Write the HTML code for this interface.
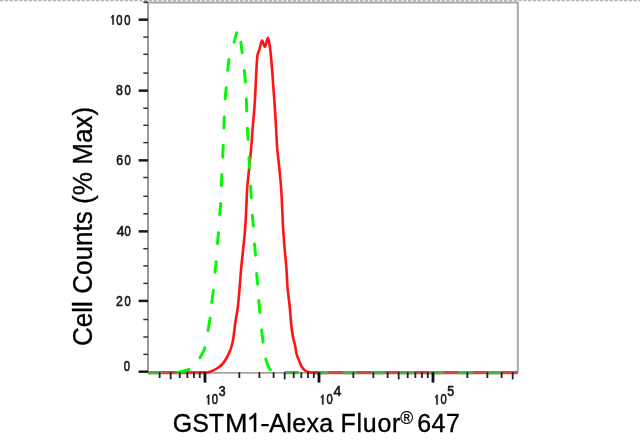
<!DOCTYPE html>
<html><head><meta charset="utf-8"><style>
html,body{margin:0;padding:0;background:#fff;width:640px;height:443px;overflow:hidden}
svg{display:block;font-family:"Liberation Sans",sans-serif;filter:blur(0.35px)}
.maj{stroke:#1a1a1a;stroke-width:2.5}
.maj0{stroke:#111;stroke-width:2.4}
.min{stroke:#333;stroke-width:1.5}
.xmaj{stroke:#111;stroke-width:2.8}
.xmin{stroke:#222;stroke-width:1.8}
.tl{font-size:14px;fill:#1a1a1a;stroke:#1a1a1a;stroke-width:0.65}
.g1{fill:#1a1a1a;stroke:#1a1a1a;stroke-width:70}
.tt{font-size:25px;fill:#000;stroke:#000;stroke-width:0.35}
</style></head><body>
<svg width="640" height="443" viewBox="0 0 640 443">
<line x1="0" y1="0.6" x2="640" y2="0.6" stroke="#b4b4b4" stroke-width="1.2" stroke-dasharray="3.3 1.5"/>
<path d="M144,2.6 H517.8 V372.5" fill="none" stroke="#a8a8a8" stroke-width="2"/>
<line x1="148" y1="2" x2="148" y2="373" stroke="#9a9a9a" stroke-width="2"/>
<line x1="148" y1="372.9" x2="518" y2="372.9" stroke="#a4a4a4" stroke-width="1.8"/>
<path d="M148,372.7 H205 M313,372.7 H517.8" stroke="#c84c4c" stroke-width="3.2" fill="none"/>
<path d="M148.30,372.70 H162.00 M284.70,372.70 H298.90 M313.60,372.70 H328.30 M342.70,372.70 H357.00 M371.00,372.70 H385.60 M400.00,372.70 H414.40 M429.50,372.70 H443.70 M458.00,372.70 H472.80 M487.40,372.70 H501.60" stroke="#48b448" stroke-width="3.2" fill="none"/>
<path d="M200.00,372.50 C200.83,372.50 203.33,372.62 205.00,372.50 C206.67,372.38 208.03,372.47 210.00,371.80 C211.97,371.13 214.88,369.63 216.80,368.50 C218.72,367.37 219.93,366.63 221.50,365.00 C223.07,363.37 224.87,360.87 226.20,358.70 C227.53,356.53 228.63,353.95 229.50,352.00 C230.37,350.05 230.75,349.33 231.40,347.00 C232.05,344.67 232.80,341.67 233.40,338.00 C234.00,334.33 234.47,328.83 235.00,325.00 C235.53,321.17 236.12,318.08 236.60,315.00 C237.08,311.92 237.40,311.00 237.90,306.50 C238.40,302.00 239.05,294.42 239.60,288.00 C240.15,281.58 240.58,274.67 241.20,268.00 C241.82,261.33 242.63,254.67 243.30,248.00 C243.97,241.33 244.70,234.67 245.20,228.00 C245.70,221.33 245.97,214.67 246.30,208.00 C246.63,201.33 246.72,194.67 247.20,188.00 C247.68,181.33 248.53,174.67 249.20,168.00 C249.87,161.33 250.62,154.67 251.20,148.00 C251.78,141.33 252.17,134.67 252.70,128.00 C253.23,121.33 253.98,113.50 254.40,108.00 C254.82,102.50 254.95,99.58 255.20,95.00 C255.45,90.42 255.68,85.00 255.90,80.50 C256.12,76.00 256.23,72.22 256.50,68.00 C256.77,63.78 257.02,58.27 257.50,55.20 C257.98,52.13 258.65,52.02 259.40,49.60 C260.15,47.18 261.07,41.18 262.00,40.70 C262.93,40.22 264.02,47.18 265.00,46.70 C265.98,46.22 267.10,37.88 267.90,37.80 C268.70,37.72 269.25,42.68 269.80,46.20 C270.35,49.72 270.77,54.38 271.20,58.90 C271.63,63.42 272.03,68.48 272.40,73.30 C272.77,78.12 273.08,83.35 273.40,87.80 C273.72,92.25 274.03,96.30 274.30,100.00 C274.57,103.70 274.75,106.23 275.00,110.00 C275.25,113.77 275.43,116.27 275.80,122.60 C276.17,128.93 276.62,140.43 277.20,148.00 C277.78,155.57 278.65,161.33 279.30,168.00 C279.95,174.67 280.62,181.33 281.10,188.00 C281.58,194.67 281.87,201.33 282.20,208.00 C282.53,214.67 282.70,221.33 283.10,228.00 C283.50,234.67 284.05,241.33 284.60,248.00 C285.15,254.67 285.90,261.33 286.40,268.00 C286.90,274.67 287.05,281.58 287.60,288.00 C288.15,294.42 289.08,300.33 289.70,306.50 C290.32,312.67 290.75,319.92 291.30,325.00 C291.85,330.08 292.38,333.65 293.00,337.00 C293.62,340.35 294.40,342.27 295.00,345.10 C295.60,347.93 295.98,351.58 296.60,354.00 C297.22,356.42 297.93,357.63 298.70,359.60 C299.47,361.57 300.32,364.13 301.20,365.80 C302.08,367.47 303.03,368.63 304.00,369.60 C304.97,370.57 305.92,371.13 307.00,371.60 C308.08,372.07 309.50,372.25 310.50,372.40 C311.50,372.55 311.75,372.48 313.00,372.50 C314.25,372.52 317.17,372.50 318.00,372.50" fill="none" stroke="#ff1414" stroke-width="2.6" stroke-linejoin="round"/>
<path d="M177.98,372.20 L178.00,372.20 L178.17,372.17 L178.34,372.15 L178.52,372.12 L178.70,372.09 L178.88,372.06 L179.07,372.03 L179.26,372.00 L179.46,371.97 L179.65,371.94 L179.85,371.90 L180.05,371.87 L180.26,371.83 L180.46,371.80 L180.67,371.76 L180.88,371.72 L181.08,371.68 L181.29,371.64 L181.50,371.60 L181.71,371.55 L181.93,371.51 L182.14,371.46 L182.35,371.42 L182.56,371.37 L182.77,371.32 L182.98,371.27 L183.18,371.22 L183.39,371.16 L183.60,371.11 L183.80,371.06 L184.00,371.00 L184.20,370.94 L184.40,370.89 L184.60,370.83 L184.81,370.77 L185.01,370.72 L185.22,370.66 L185.42,370.60 L185.63,370.54 L185.83,370.48 L186.04,370.42 L186.24,370.36 L186.45,370.29 L186.65,370.23 L186.86,370.16 L187.06,370.09 L187.27,370.02 L187.47,369.95 L187.67,369.88 L187.87,369.80 L188.07,369.73 L188.27,369.65 L188.47,369.56 L188.67,369.48 L188.86,369.39 L188.94,369.36 M200.04,357.68 L200.11,357.56 L200.22,357.38 L200.33,357.19 L200.44,357.00 L200.55,356.82 L200.65,356.63 L200.76,356.45 L200.86,356.26 L200.96,356.07 L201.06,355.89 L201.16,355.70 L201.26,355.51 L201.36,355.33 L201.46,355.14 L201.55,354.95 L201.65,354.76 L201.74,354.57 L201.84,354.38 L201.93,354.18 L202.03,353.99 L202.12,353.79 L202.22,353.60 L202.31,353.40 L202.41,353.20 L202.50,353.00 L202.59,352.80 L202.69,352.61 L202.78,352.43 L202.87,352.25 L202.96,352.07 L203.05,351.90 L203.14,351.73 L203.23,351.57 L203.31,351.40 L203.40,351.24 L203.49,351.07 L203.57,350.90 L203.66,350.73 L203.74,350.56 L203.82,350.38 L203.91,350.20 L203.99,350.01 L204.08,349.81 L204.16,349.61 L204.24,349.40 L204.33,349.17 L204.41,348.94 L204.50,348.70 L204.58,348.44 L204.67,348.17 L204.75,347.89 L204.79,347.76 M208.01,330.42 L208.06,330.13 L208.14,329.64 L208.23,329.16 L208.31,328.67 L208.40,328.19 L208.48,327.71 L208.57,327.23 L208.65,326.74 L208.74,326.26 L208.82,325.78 L208.90,325.30 L208.99,324.82 L209.07,324.34 L209.15,323.86 L209.23,323.38 L209.31,322.90 L209.39,322.42 L209.47,321.94 L209.55,321.46 L209.63,320.98 L209.70,320.50 L209.78,320.02 L209.85,319.53 L209.92,319.05 L209.99,318.56 L210.03,318.29 M211.77,302.42 L211.80,302.20 L211.86,301.74 L211.91,301.28 L211.97,300.84 L212.02,300.39 L212.08,299.96 L212.14,299.52 L212.20,299.09 L212.25,298.67 L212.31,298.25 L212.37,297.83 L212.43,297.41 L212.49,297.00 L212.55,296.58 L212.60,296.17 L212.66,295.76 L212.72,295.34 L212.78,294.93 L212.84,294.51 L212.89,294.09 L212.95,293.67 L213.01,293.25 L213.07,292.82 L213.12,292.39 L213.18,291.95 L213.23,291.51 L213.29,291.06 L213.34,290.60 L213.37,290.39 M215.02,272.21 L215.04,272.01 L215.09,271.56 L215.14,271.12 L215.18,270.68 L215.23,270.25 L215.28,269.83 L215.33,269.41 L215.38,268.99 L215.43,268.58 L215.47,268.17 L215.52,267.76 L215.57,267.36 L215.62,266.95 L215.67,266.54 L215.71,266.14 L215.76,265.73 L215.81,265.32 L215.86,264.91 L215.90,264.49 L215.95,264.07 L215.99,263.65 L216.04,263.22 L216.08,262.78 L216.13,262.34 L216.17,261.89 L216.19,261.70 M217.49,243.50 L217.51,243.29 L217.55,242.84 L217.58,242.39 L217.62,241.95 L217.66,241.51 L217.69,241.08 L217.73,240.66 L217.77,240.23 L217.80,239.81 L217.84,239.40 L217.88,238.98 L217.91,238.56 L217.95,238.15 L217.99,237.74 L218.02,237.32 L218.06,236.90 L218.10,236.49 L218.13,236.07 L218.17,235.64 L218.21,235.22 L218.24,234.79 L218.28,234.35 L218.32,233.91 L218.35,233.46 L218.39,233.01 L218.41,232.80 M219.70,214.60 L219.72,214.36 L219.76,213.90 L219.80,213.44 L219.84,212.98 L219.89,212.53 L219.93,212.08 L219.97,211.64 L220.02,211.20 L220.06,210.76 L220.11,210.32 L220.15,209.89 L220.19,209.45 L220.24,209.02 L220.28,208.59 L220.32,208.15 L220.37,207.72 L220.41,207.28 L220.45,206.85 L220.49,206.41 L220.53,205.97 L220.57,205.53 L220.60,205.08 L220.64,204.63 L220.67,204.17 L220.71,203.71 L220.72,203.50 M221.35,185.80 L221.36,185.58 L221.37,185.11 L221.39,184.65 L221.41,184.20 L221.43,183.74 L221.45,183.29 L221.47,182.85 L221.49,182.40 L221.51,181.96 L221.53,181.51 L221.55,181.07 L221.57,180.63 L221.59,180.19 L221.61,179.75 L221.63,179.31 L221.65,178.87 L221.67,178.43 L221.69,177.99 L221.71,177.54 L221.73,177.10 L221.75,176.65 L221.77,176.20 L221.79,175.74 L221.81,175.28 L221.84,174.82 L221.85,174.60 M222.66,157.00 L222.67,156.74 L222.69,156.26 L222.72,155.78 L222.74,155.30 L222.77,154.83 L222.79,154.35 L222.82,153.88 L222.84,153.41 L222.87,152.94 L222.89,152.47 L222.91,152.00 L222.94,151.54 L222.96,151.07 L222.99,150.60 L223.01,150.13 L223.03,149.67 L223.06,149.20 L223.08,148.73 L223.10,148.27 L223.13,147.80 L223.15,147.33 L223.17,146.86 L223.19,146.38 L223.22,145.91 L223.24,145.44 L223.25,145.20 M223.85,128.10 L223.86,127.91 L223.87,127.46 L223.89,127.01 L223.91,126.56 L223.93,126.11 L223.95,125.67 L223.97,125.23 L223.99,124.79 L224.01,124.36 L224.03,123.92 L224.05,123.48 L224.07,123.05 L224.09,122.61 L224.11,122.18 L224.13,121.74 L224.15,121.30 L224.17,120.86 L224.19,120.42 L224.21,119.97 L224.23,119.53 L224.25,119.08 L224.27,118.62 L224.29,118.16 L224.31,117.70 L224.34,117.23 L224.35,117.00 M225.18,98.90 L225.20,98.67 L225.23,98.20 L225.27,97.74 L225.31,97.28 L225.34,96.83 L225.38,96.38 L225.42,95.94 L225.46,95.50 L225.50,95.06 L225.54,94.62 L225.58,94.18 L225.62,93.75 L225.66,93.31 L225.70,92.88 L225.75,92.44 L225.79,92.01 L225.83,91.57 L225.87,91.14 L225.92,90.70 L225.96,90.26 L226.00,89.81 L226.05,89.37 L226.09,88.92 L226.13,88.46 L226.17,88.00 L226.19,87.80 M227.72,70.31 L227.75,70.09 L227.79,69.62 L227.84,69.15 L227.89,68.68 L227.94,68.21 L227.99,67.74 L228.04,67.27 L228.09,66.81 L228.14,66.35 L228.19,65.89 L228.25,65.43 L228.30,64.98 L228.35,64.53 L228.40,64.09 L228.46,63.64 L228.51,63.21 L228.56,62.77 L228.62,62.34 L228.67,61.92 L228.73,61.50 L228.79,61.09 L228.84,60.69 L228.90,60.29 L228.96,59.90 L229.01,59.58 M234.05,42.15 L234.10,41.98 L234.21,41.61 L234.31,41.23 L234.43,40.83 L234.54,40.43 L234.65,40.02 L234.77,39.61 L234.88,39.19 L235.00,38.76 L235.12,38.34 L235.23,37.91 L235.35,37.49 L235.47,37.07 L235.58,36.65 L235.70,36.24 L235.81,35.83 L235.92,35.44 L236.03,35.05 L236.14,34.68 L236.25,34.32 L236.35,33.97 L236.45,33.64 L236.55,33.33 L236.64,33.04 L236.71,32.85 M240.85,42.19 L240.87,42.31 L240.91,42.67 L240.96,43.04 L241.01,43.42 L241.05,43.81 L241.10,44.21 L241.16,44.63 L241.21,45.05 L241.26,45.48 L241.31,45.91 L241.37,46.36 L241.42,46.81 L241.48,47.26 L241.54,47.72 L241.60,48.19 L241.65,48.66 L241.71,49.13 L241.77,49.60 L241.83,50.08 L241.89,50.56 L241.95,51.04 L242.01,51.52 L242.06,52.00 L242.12,52.48 L242.15,52.71 M244.33,70.39 L244.36,70.65 L244.41,71.13 L244.46,71.60 L244.51,72.07 L244.56,72.54 L244.61,73.01 L244.65,73.47 L244.70,73.94 L244.75,74.40 L244.79,74.86 L244.84,75.32 L244.88,75.78 L244.92,76.24 L244.97,76.70 L245.01,77.15 L245.05,77.61 L245.09,78.07 L245.13,78.53 L245.17,78.99 L245.21,79.45 L245.25,79.91 L245.29,80.38 L245.33,80.84 L245.36,81.31 L245.40,81.78 L245.41,82.00 M246.25,99.10 L246.26,99.34 L246.29,99.81 L246.31,100.29 L246.33,100.76 L246.35,101.23 L246.37,101.70 L246.39,102.17 L246.41,102.64 L246.43,103.11 L246.45,103.58 L246.47,104.05 L246.49,104.51 L246.51,104.98 L246.53,105.45 L246.55,105.92 L246.57,106.39 L246.59,106.86 L246.61,107.33 L246.63,107.80 L246.65,108.27 L246.67,108.74 L246.69,109.22 L246.71,109.69 L246.73,110.17 L246.74,110.65 L246.75,110.90 M247.36,128.30 L247.37,128.50 L247.40,128.96 L247.43,129.41 L247.46,129.86 L247.49,130.30 L247.52,130.75 L247.55,131.19 L247.58,131.63 L247.61,132.06 L247.64,132.50 L247.67,132.93 L247.71,133.37 L247.74,133.80 L247.77,134.23 L247.80,134.67 L247.84,135.11 L247.87,135.54 L247.90,135.99 L247.93,136.43 L247.96,136.87 L248.00,137.32 L248.03,137.78 L248.06,138.23 L248.09,138.70 L248.12,139.16 L248.13,139.40 M248.96,157.60 L248.97,157.76 L248.99,158.20 L249.01,158.62 L249.04,159.04 L249.06,159.45 L249.08,159.86 L249.10,160.26 L249.13,160.66 L249.15,161.05 L249.17,161.44 L249.19,161.82 L249.22,162.21 L249.24,162.59 L249.26,162.98 L249.28,163.36 L249.31,163.75 L249.33,164.14 L249.35,164.53 L249.38,164.93 L249.40,165.33 L249.42,165.74 L249.45,166.15 L249.47,166.57 L249.50,167.00 L249.52,167.43 L249.53,167.60 M250.57,185.90 L250.59,186.26 L250.62,186.78 L250.65,187.30 L250.68,187.82 L250.71,188.34 L250.74,188.86 L250.77,189.38 L250.80,189.89 L250.83,190.41 L250.86,190.93 L250.90,191.44 L250.93,191.96 L250.96,192.47 L250.99,192.98 L251.02,193.49 L251.05,194.00 L251.08,194.51 L251.11,195.02 L251.14,195.52 L251.17,196.03 L251.20,196.53 L251.23,197.03 L251.26,197.53 L251.27,197.82 M252.29,215.20 L252.30,215.33 L252.34,215.77 L252.38,216.20 L252.42,216.63 L252.46,217.06 L252.50,217.49 L252.54,217.91 L252.58,218.33 L252.62,218.75 L252.66,219.18 L252.70,219.60 L252.75,220.02 L252.79,220.44 L252.83,220.86 L252.87,221.28 L252.92,221.71 L252.96,222.14 L253.00,222.57 L253.04,223.00 L253.08,223.44 L253.13,223.88 L253.17,224.32 L253.21,224.77 L253.25,225.23 L253.29,225.68 L253.30,225.90 M254.49,244.10 L254.51,244.33 L254.55,244.80 L254.59,245.26 L254.63,245.71 L254.67,246.16 L254.71,246.60 L254.75,247.05 L254.79,247.49 L254.83,247.92 L254.88,248.36 L254.92,248.79 L254.96,249.22 L255.00,249.65 L255.04,250.08 L255.08,250.51 L255.12,250.94 L255.17,251.38 L255.21,251.81 L255.25,252.25 L255.29,252.70 L255.33,253.14 L255.37,253.59 L255.41,254.04 L255.45,254.50 L255.49,254.97 L255.51,255.20 M256.69,273.40 L256.71,273.62 L256.74,274.07 L256.78,274.53 L256.82,274.98 L256.85,275.42 L256.89,275.86 L256.93,276.30 L256.96,276.73 L257.00,277.16 L257.04,277.59 L257.08,278.02 L257.11,278.44 L257.15,278.86 L257.19,279.28 L257.22,279.70 L257.26,280.12 L257.30,280.55 L257.34,280.97 L257.37,281.39 L257.41,281.81 L257.45,282.24 L257.48,282.67 L257.52,283.10 L257.56,283.53 L257.59,283.97 L257.60,284.10 M258.80,300.50 L258.82,300.71 L258.86,301.17 L258.90,301.64 L258.94,302.11 L258.98,302.57 L259.02,303.04 L259.06,303.51 L259.10,303.97 L259.15,304.44 L259.19,304.91 L259.23,305.38 L259.28,305.84 L259.32,306.31 L259.36,306.78 L259.41,307.25 L259.45,307.72 L259.50,308.20 L259.54,308.67 L259.59,309.15 L259.63,309.62 L259.68,310.10 L259.72,310.58 L259.77,311.06 L259.81,311.55 L259.86,312.03 L259.89,312.31 M261.63,330.09 L261.67,330.38 L261.72,330.87 L261.78,331.36 L261.83,331.84 L261.89,332.33 L261.95,332.81 L262.00,333.29 L262.06,333.77 L262.12,334.25 L262.17,334.73 L262.23,335.20 L262.29,335.68 L262.35,336.16 L262.41,336.63 L262.47,337.11 L262.53,337.58 L262.59,338.06 L262.65,338.53 L262.71,339.00 L262.78,339.48 L262.84,339.95 L262.90,340.43 L262.97,340.91 L263.03,341.38 L263.10,341.86 L263.13,342.11 M265.86,358.97 L265.91,359.19 L265.99,359.51 L266.06,359.82 L266.14,360.12 L266.22,360.41 L266.29,360.70 L266.37,360.97 L266.45,361.24 L266.52,361.50 L266.60,361.76 L266.68,362.01 L266.76,362.25 L266.83,362.49 L266.91,362.72 L266.99,362.95 L267.07,363.17 L267.15,363.39 L267.23,363.61 L267.31,363.82 L267.40,364.04 L267.48,364.25 L267.56,364.46 L267.65,364.67 L267.74,364.87 L267.82,365.08 L267.91,365.29 L268.00,365.50 L268.09,365.71 L268.18,365.91 L268.27,366.12 L268.36,366.32 L268.45,366.51 L268.55,366.70 L268.64,366.89 L268.73,367.08 L268.82,367.26 L268.92,367.44 L269.01,367.62 L269.11,367.80 L269.21,367.97 L269.30,368.14 L269.40,368.30 L269.50,368.46 L269.60,368.62 L269.70,368.78 L269.80,368.93 L269.90,369.08 L270.01,369.22 L270.11,369.37 L270.21,369.50" fill="none" stroke="#06f606" stroke-width="3" stroke-linecap="round"/>
<line x1="143.3" y1="2.10" x2="148" y2="2.10" class="min"/><line x1="138.6" y1="19.69" x2="148" y2="19.69" class="maj"/><line x1="143.3" y1="37.10" x2="148" y2="37.10" class="min"/><line x1="143.3" y1="54.30" x2="148" y2="54.30" class="min"/><line x1="143.3" y1="73.10" x2="148" y2="73.10" class="min"/><line x1="138.6" y1="90.64" x2="148" y2="90.64" class="maj"/><line x1="143.3" y1="108.20" x2="148" y2="108.20" class="min"/><line x1="143.3" y1="125.30" x2="148" y2="125.30" class="min"/><line x1="143.3" y1="142.65" x2="148" y2="142.65" class="min"/><line x1="138.6" y1="160.37" x2="148" y2="160.37" class="maj"/><line x1="143.3" y1="177.50" x2="148" y2="177.50" class="min"/><line x1="143.3" y1="196.30" x2="148" y2="196.30" class="min"/><line x1="143.3" y1="213.80" x2="148" y2="213.80" class="min"/><line x1="138.6" y1="231.37" x2="148" y2="231.37" class="maj"/><line x1="143.3" y1="248.70" x2="148" y2="248.70" class="min"/><line x1="143.3" y1="265.90" x2="148" y2="265.90" class="min"/><line x1="143.3" y1="283.40" x2="148" y2="283.40" class="min"/><line x1="138.6" y1="300.90" x2="148" y2="300.90" class="maj"/><line x1="143.3" y1="319.50" x2="148" y2="319.50" class="min"/><line x1="143.3" y1="337.00" x2="148" y2="337.00" class="min"/><line x1="143.3" y1="354.40" x2="148" y2="354.40" class="min"/><line x1="138.6" y1="371.70" x2="148" y2="371.70" class="maj0"/>
<line x1="159.63" y1="372.2" x2="159.63" y2="378" class="xmin"/><line x1="170.68" y1="372.2" x2="170.68" y2="379.4" class="xmin"/><line x1="179.71" y1="372.2" x2="179.71" y2="378" class="xmin"/><line x1="187.34" y1="372.2" x2="187.34" y2="378" class="xmin"/><line x1="193.95" y1="372.2" x2="193.95" y2="378" class="xmin"/><line x1="199.78" y1="372.2" x2="199.78" y2="378" class="xmin"/><line x1="205.00" y1="372.2" x2="205.00" y2="382.6" class="xmaj"/><line x1="239.32" y1="372.2" x2="239.32" y2="378" class="xmin"/><line x1="259.39" y1="372.2" x2="259.39" y2="378" class="xmin"/><line x1="273.63" y1="372.2" x2="273.63" y2="378" class="xmin"/><line x1="284.68" y1="372.2" x2="284.68" y2="379.4" class="xmin"/><line x1="293.71" y1="372.2" x2="293.71" y2="378" class="xmin"/><line x1="301.34" y1="372.2" x2="301.34" y2="378" class="xmin"/><line x1="307.95" y1="372.2" x2="307.95" y2="378" class="xmin"/><line x1="313.78" y1="372.2" x2="313.78" y2="378" class="xmin"/><line x1="319.00" y1="372.2" x2="319.00" y2="382.6" class="xmaj"/><line x1="353.32" y1="372.2" x2="353.32" y2="378" class="xmin"/><line x1="373.39" y1="372.2" x2="373.39" y2="378" class="xmin"/><line x1="387.63" y1="372.2" x2="387.63" y2="378" class="xmin"/><line x1="398.68" y1="372.2" x2="398.68" y2="379.4" class="xmin"/><line x1="407.71" y1="372.2" x2="407.71" y2="378" class="xmin"/><line x1="415.34" y1="372.2" x2="415.34" y2="378" class="xmin"/><line x1="421.95" y1="372.2" x2="421.95" y2="378" class="xmin"/><line x1="427.78" y1="372.2" x2="427.78" y2="378" class="xmin"/><line x1="433.00" y1="372.2" x2="433.00" y2="382.6" class="xmaj"/><line x1="467.32" y1="372.2" x2="467.32" y2="378" class="xmin"/><line x1="487.39" y1="372.2" x2="487.39" y2="378" class="xmin"/><line x1="501.63" y1="372.2" x2="501.63" y2="378" class="xmin"/><line x1="512.68" y1="372.2" x2="512.68" y2="379.4" class="xmin"/>
<text transform="translate(123.74,370.50) scale(0.80,1)" class="tl">0</text><text transform="translate(116.07,305.72) scale(0.88,1)" class="tl">2</text><text transform="translate(124.54,305.72) scale(0.80,1)" class="tl">0</text><text transform="translate(116.85,236.19) scale(1.00,1)" class="tl">4</text><text transform="translate(124.54,236.19) scale(0.80,1)" class="tl">0</text><text transform="translate(116.33,165.19) scale(0.88,1)" class="tl">6</text><text transform="translate(124.54,165.19) scale(0.80,1)" class="tl">0</text><text transform="translate(116.12,95.46) scale(0.88,1)" class="tl">8</text><text transform="translate(124.54,95.46) scale(0.80,1)" class="tl">0</text><path d="M763,0H583V1147Q550,1085 497,1023Q445,961 403,930V1104Q478,1175 535,1276Q591,1377 647,1409H763Z" transform="translate(108.45,24.51) scale(0.006836,-0.006836)" class="g1"/><text transform="translate(116.34,24.51) scale(0.80,1)" class="tl">0</text><text transform="translate(124.24,24.51) scale(0.80,1)" class="tl">0</text>
<path d="M763,0H583V1147Q550,1085 497,1023Q445,961 403,930V1104Q478,1175 535,1276Q591,1377 647,1409H763Z" transform="translate(203.95,404.40) scale(0.006836,-0.006836)" class="g1"/><text transform="translate(211.79,404.40) scale(0.80,1)" class="tl">0</text><text transform="translate(218.71,395.90) scale(0.88,1)" class="tl">3</text><path d="M763,0H583V1147Q550,1085 497,1023Q445,961 403,930V1104Q478,1175 535,1276Q591,1377 647,1409H763Z" transform="translate(318.20,404.40) scale(0.006836,-0.006836)" class="g1"/><text transform="translate(326.39,404.40) scale(0.80,1)" class="tl">0</text><text transform="translate(333.55,395.90) scale(1.00,1)" class="tl">4</text><path d="M763,0H583V1147Q550,1085 497,1023Q445,961 403,930V1104Q478,1175 535,1276Q591,1377 647,1409H763Z" transform="translate(432.45,404.40) scale(0.006836,-0.006836)" class="g1"/><text transform="translate(440.44,404.40) scale(0.80,1)" class="tl">0</text><text transform="translate(447.14,395.90) scale(0.88,1)" class="tl">5</text>
<text transform="translate(92,226.4) rotate(-90) scale(1.005,1.055)" text-anchor="middle" font-size="26" fill="#000" stroke="#000" stroke-width="0.3">Cell Counts (% Max)</text>
<g transform="translate(0,431.8) scale(1,1.055)">
<text x="172.75" y="0" class="tt">GST</text>
<text transform="translate(224.9,0) scale(1.08,1)" class="tt">M</text>
<path d="M763,0H583V1147Q518,1085 412.5,1023Q307,961 223,930V1104Q374,1175 487,1276Q600,1377 647,1466H763Z" transform="translate(246.8,0) scale(0.012207,-0.012207)" fill="#000" stroke="#000" stroke-width="28"/>
<rect x="261.3" y="-7.4" width="7.4" height="2.1" fill="#000"/>
<text x="269.3" y="0" class="tt" letter-spacing="0.35">Alexa</text>
<text x="340.5" y="0" class="tt" letter-spacing="0.75">Fluor</text>
<text x="400.3" y="-7.8" font-size="17.5" fill="#000" stroke="#000" stroke-width="0.25">®</text>
<text x="417.2" y="0" class="tt" letter-spacing="0.5">647</text>
</g>
</svg>
</body></html>
